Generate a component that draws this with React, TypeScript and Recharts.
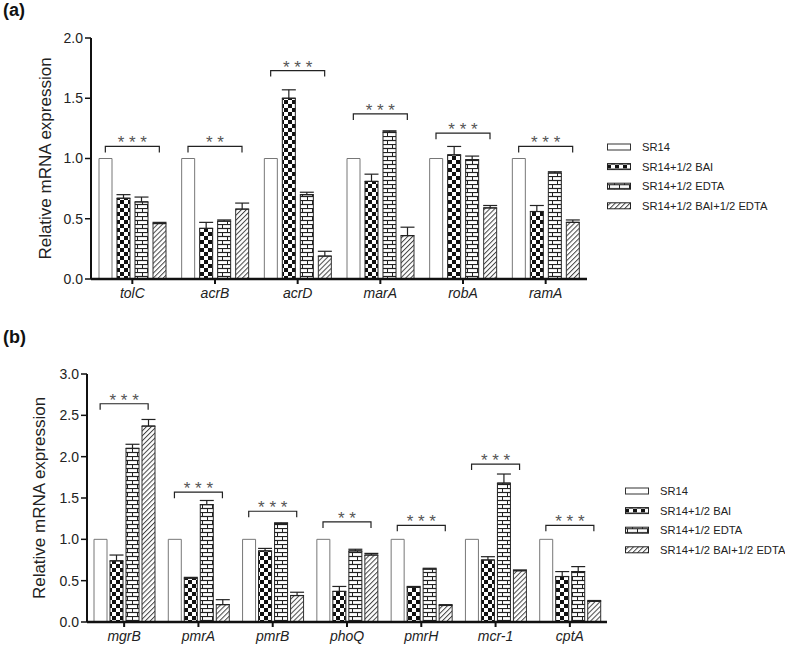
import React from "react";
import {
  ComposedChart,
  Bar,
  Scatter,
  ErrorBar,
  XAxis,
  YAxis,
} from "recharts";

const SERIES = [
  "SR14",
  "SR14+1/2 BAI",
  "SR14+1/2 EDTA",
  "SR14+1/2 BAI+1/2 EDTA",
];

// panel (a)
const GENES_A = ["tolC", "acrB", "acrD", "marA", "robA", "ramA"];
const SR14_A = [1, 1, 1, 1, 1, 1];
const BAI_A = [0.67, 0.42, 1.5, 0.81, 1.03, 0.56];
const BAI_ERR_A = [0.03, 0.05, 0.07, 0.06, 0.07, 0.05];
const EDTA_A = [0.64, 0.48, 0.7, 1.22, 0.99, 0.88];
const EDTA_ERR_A = [0.04, 0.01, 0.02, 0.01, 0.03, 0.01];
const COMBO_A = [0.46, 0.58, 0.19, 0.36, 0.59, 0.47];
const COMBO_ERR_A = [0.01, 0.05, 0.04, 0.07, 0.02, 0.02];
const BRACKET_A = [1.1, 1.1, 1.73, 1.37, 1.21, 1.1];
const STARS_A = ["***", "**", "***", "***", "***", "***"];
const TICKS_A = [0, 0.5, 1, 1.5, 2];

// panel (b)
const GENES_B = ["mgrB", "pmrA", "pmrB", "phoQ", "pmrH", "mcr-1", "cptA"];
const SR14_B = [1, 1, 1, 1, 1, 1, 1];
const BAI_B = [0.74, 0.53, 0.86, 0.37, 0.42, 0.75, 0.55];
const BAI_ERR_B = [0.07, 0.01, 0.03, 0.06, 0.01, 0.04, 0.06];
const EDTA_B = [2.1, 1.42, 1.19, 0.86, 0.64, 1.68, 0.61];
const EDTA_ERR_B = [0.05, 0.05, 0.01, 0.02, 0.01, 0.11, 0.06];
const COMBO_B = [2.37, 0.21, 0.32, 0.81, 0.2, 0.62, 0.25];
const COMBO_ERR_B = [0.08, 0.06, 0.04, 0.02, 0.01, 0.01, 0.01];
const BRACKET_B = [2.64, 1.57, 1.34, 1.21, 1.17, 1.91, 1.17];
const STARS_B = ["***", "***", "***", "**", "***", "***", "***"];
const TICKS_B = [0, 0.5, 1, 1.5, 2, 2.5, 3];

const FONT = "'Liberation Sans', Arial, sans-serif";
const FILLS = ["#ffffff", "url(#checker)", "url(#brick)", "url(#hatch)"];
const STROKES = ["#777", "#222", "#222", "#333"];

function buildRows(
  genes: string[],
  s0: number[],
  s1: number[],
  e1: number[],
  s2: number[],
  e2: number[],
  s3: number[],
  e3: number[],
  br: number[],
  stars: string[]
) {
  return genes.map((g, i) => ({
    name: g,
    s0: s0[i],
    s1: s1[i],
    s2: s2[i],
    s3: s3[i],
    e1: [0, e1[i]],
    e2: [0, e2[i]],
    e3: [0, e3[i]],
    br: br[i],
    stars: stars[i],
  }));
}

const rowsA = buildRows(GENES_A, SR14_A, BAI_A, BAI_ERR_A, EDTA_A, EDTA_ERR_A, COMBO_A, COMBO_ERR_A, BRACKET_A, STARS_A);
const rowsB = buildRows(GENES_B, SR14_B, BAI_B, BAI_ERR_B, EDTA_B, EDTA_ERR_B, COMBO_B, COMBO_ERR_B, BRACKET_B, STARS_B);

function Patterns() {
  return (
    <svg width={0} height={0} style={{ position: "absolute" }}>
      <defs>
        <pattern id="checker" patternUnits="userSpaceOnUse" width={8} height={8}>
          <rect width={8} height={8} fill="#fff" />
          <rect x={0} y={0} width={4} height={4} fill="#111" />
          <rect x={4} y={4} width={4} height={4} fill="#111" />
        </pattern>
        <pattern id="brick" patternUnits="userSpaceOnUse" width={10} height={8}>
          <rect width={10} height={8} fill="#fff" />
          <line x1={0} y1={0.5} x2={10} y2={0.5} stroke="#222" strokeWidth={1.2} />
          <line x1={0} y1={4.5} x2={10} y2={4.5} stroke="#222" strokeWidth={1.2} />
          <line x1={2.5} y1={0} x2={2.5} y2={4} stroke="#222" strokeWidth={1} />
          <line x1={7.5} y1={4} x2={7.5} y2={8} stroke="#222" strokeWidth={1} />
        </pattern>
        <pattern
          id="hatch"
          patternUnits="userSpaceOnUse"
          width={3.5}
          height={3.5}
          patternTransform="rotate(45)"
        >
          <rect width={3.5} height={3.5} fill="#fff" />
          <line x1={0.5} y1={0} x2={0.5} y2={3.5} stroke="#444" strokeWidth={1} />
        </pattern>
      </defs>
    </svg>
  );
}

function makeBracket(halfWidth: number) {
  return (props: any) => {
    const { cx, cy, payload } = props;
    if (cx == null || cy == null) return <g />;
    const stars = String(payload.stars).split("").join(" ");
    return (
      <g>
        <path
          d={`M${cx - halfWidth},${cy + 6} L${cx - halfWidth},${cy} L${cx + halfWidth},${cy} L${cx + halfWidth},${cy + 6}`}
          fill="none"
          stroke="#222"
          strokeWidth={1.2}
        />
        <text
          x={cx}
          y={cy + 2}
          textAnchor="middle"
          fontSize={17}
          fill="#555"
          fontFamily={FONT}
        >
          {stars}
        </text>
      </g>
    );
  };
}

interface PanelProps {
  rows: any[];
  top: number;
  height: number;
  marginTop: number;
  marginLeft: number;
  marginRight: number;
  marginBottom: number;
  yMax: number;
  ticks: number[];
  barGap: number;
  labelOffset: number;
}

function Panel({
  rows,
  top,
  height,
  marginTop,
  marginLeft,
  marginRight,
  marginBottom,
  yMax,
  ticks,
  barGap,
  labelOffset,
}: PanelProps) {
  const barSize = 13;
  const half = (3 * barSize + 3 * barGap) / 2;
  return (
    <div style={{ position: "absolute", left: 0, top }}>
      <ComposedChart
        width={785}
        height={height}
        data={rows}
        margin={{ top: marginTop, right: marginRight, bottom: marginBottom, left: marginLeft }}
        barSize={barSize}
        barGap={barGap}
      >
        <XAxis
          dataKey="name"
          axisLine={{ stroke: "#111", strokeWidth: 2.5 }}
          tickLine={{ stroke: "#111", strokeWidth: 2 }}
          tickSize={5}
          tickMargin={4}
          height={24}
          interval={0}
          tick={{ fontSize: 14, fontStyle: "italic", fill: "#222", fontFamily: FONT }}
        />
        <YAxis
          domain={[0, yMax]}
          ticks={ticks}
          width={61}
          axisLine={{ stroke: "#111", strokeWidth: 2 }}
          tickLine={{ stroke: "#111", strokeWidth: 1.5 }}
          tickSize={6}
          tickMargin={2}
          tickFormatter={(v: number) => v.toFixed(1)}
          tick={{ fontSize: 14, fill: "#222", fontFamily: FONT }}
          label={{
            value: "Relative mRNA expression",
            angle: -90,
            position: "insideLeft",
            offset: labelOffset,
            style: { textAnchor: "middle", fontSize: 17, fill: "#222", fontFamily: FONT },
          }}
        />
        <Bar dataKey="s0" fill={FILLS[0]} stroke={STROKES[0]} strokeWidth={1} isAnimationActive={false} />
        <Bar dataKey="s1" fill={FILLS[1]} stroke={STROKES[1]} strokeWidth={1} isAnimationActive={false}>
          <ErrorBar dataKey="e1" width={7} stroke="#222" strokeWidth={1.2} direction="y" />
        </Bar>
        <Bar dataKey="s2" fill={FILLS[2]} stroke={STROKES[2]} strokeWidth={1} isAnimationActive={false}>
          <ErrorBar dataKey="e2" width={7} stroke="#222" strokeWidth={1.2} direction="y" />
        </Bar>
        <Bar dataKey="s3" fill={FILLS[3]} stroke={STROKES[3]} strokeWidth={1} isAnimationActive={false}>
          <ErrorBar dataKey="e3" width={7} stroke="#222" strokeWidth={1.2} direction="y" />
        </Bar>
        <Scatter dataKey="br" shape={makeBracket(half)} isAnimationActive={false} />
      </ComposedChart>
    </div>
  );
}

function LegendBox({ left, top }: { left: number; top: number }) {
  return (
    <svg
      width={200}
      height={80}
      style={{ position: "absolute", left, top }}
    >
      {SERIES.map((s, i) => (
        <g key={s} transform={`translate(0, ${i * 19.6})`}>
          <rect x={0.5} y={7} width={23} height={6} fill={FILLS[i]} stroke={i === 0 ? "#333" : "#222"} strokeWidth={1} />
          <text x={35} y={14} fontSize={11.2} fill="#222" fontFamily={FONT}>
            {s}
          </text>
        </g>
      ))}
    </svg>
  );
}

export default function App() {
  return (
    <div style={{ position: "absolute", left: 0, top: 0, width: 785, height: 646, background: "#fff", fontFamily: FONT }}>
      <Patterns />
      <div style={{ position: "absolute", left: 3, top: 0, fontSize: 18, fontWeight: "bold", color: "#111" }}>(a)</div>
      <div style={{ position: "absolute", left: 3, top: 327, fontSize: 18, fontWeight: "bold", color: "#111" }}>(b)</div>
      <Panel
        rows={rowsA}
        top={0}
        height={310}
        marginTop={38}
        marginLeft={30}
        marginRight={198}
        marginBottom={7}
        yMax={2}
        ticks={TICKS_A}
        barGap={5}
        labelOffset={15}
      />
      <LegendBox left={607} top={137} />
      <Panel
        rows={rowsB}
        top={320}
        height={326}
        marginTop={54}
        marginLeft={26}
        marginRight={178}
        marginBottom={0}
        yMax={3}
        ticks={TICKS_B}
        barGap={3}
        labelOffset={13}
      />
      <LegendBox left={625} top={481} />
    </div>
  );
}
